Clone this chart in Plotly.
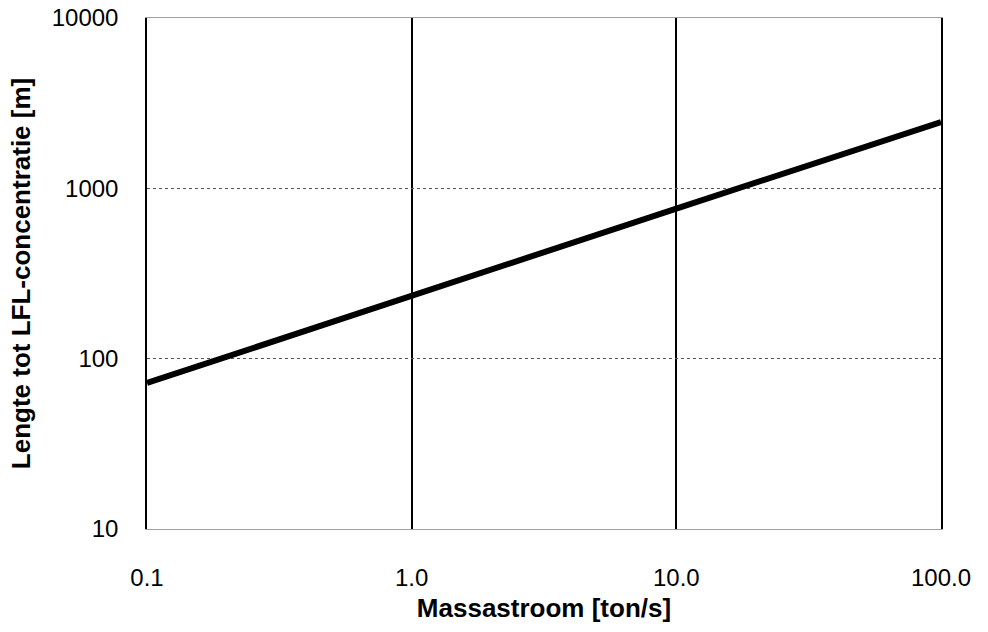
import plotly.graph_objects as go

massastroom = [0.1, 1.0, 10.0, 100.0]
lengte = [72, 235, 760, 2450]
x_ticks = [0.1, 1, 10, 100]
x_labels = ["0.1", "1.0", "10.0", "100.0"]
y_ticks = [10, 100, 1000, 10000]
y_labels = ["10", "100", "1000", "10000"]

fig = go.Figure()
fig.add_trace(go.Scatter(x=massastroom, y=lengte, mode="lines",
                         line=dict(color="black", width=6), showlegend=False))

font = "Liberation Sans, Arial, sans-serif"
fig.update_layout(
    width=988, height=632,
    margin=dict(l=147, r=47, t=18, b=103, autoexpand=False),
    paper_bgcolor="white", plot_bgcolor="white",
    font=dict(family=font, size=24, color="black"),
    xaxis=dict(type="log", range=[-1, 2], tickvals=x_ticks, ticktext=x_labels,
               showgrid=True, gridcolor="black", gridwidth=1.5,
               showline=True, linecolor="#a0a0a0", linewidth=1, mirror=True,
               zeroline=False, ticks="", ticklabelstandoff=27, automargin=False,
               title=dict(text="<b>Massastroom [ton/s]</b>", font=dict(size=26), standoff=9)),
    yaxis=dict(type="log", range=[1, 4], tickvals=y_ticks, ticktext=y_labels,
               showgrid=True, gridcolor="#555555", gridwidth=1, griddash="dot",
               showline=True, linecolor="black", linewidth=1.5, mirror=True,
               zeroline=False, ticks="", ticklabelstandoff=22, automargin=False,
               title=dict(text="<b>Lengte tot LFL-concentratie [m]</b>", font=dict(size=26), standoff=14)),
)
fig.write_html("out.html")
